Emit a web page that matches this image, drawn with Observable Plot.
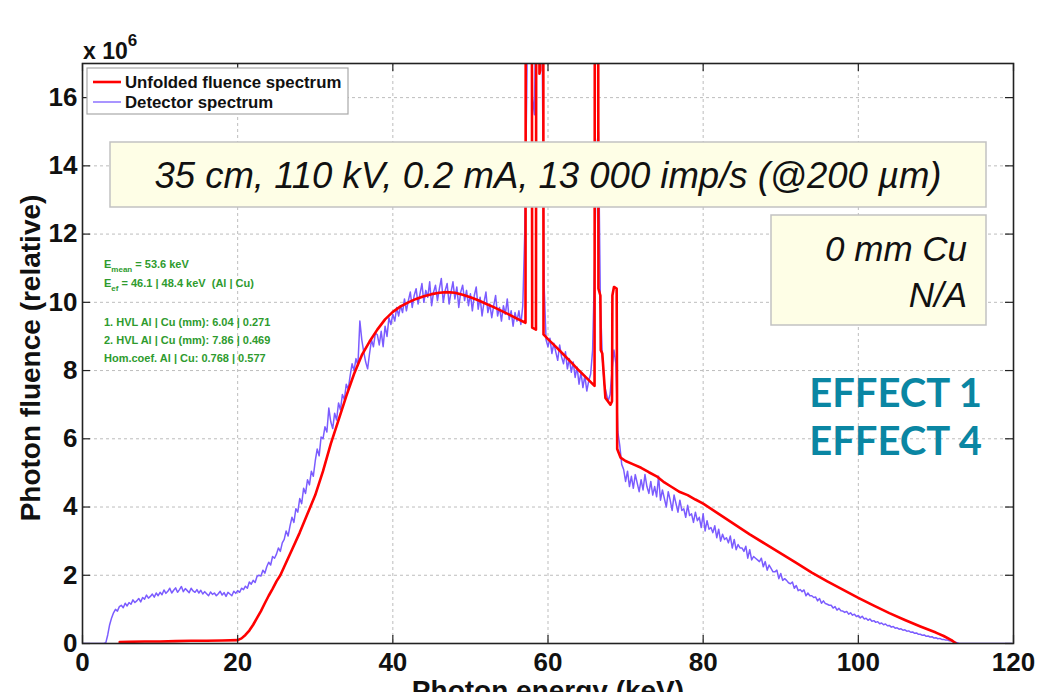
<!DOCTYPE html>
<html><head><meta charset="utf-8">
<script src="https://cdn.jsdelivr.net/npm/d3@7"></script>
<script src="https://cdn.jsdelivr.net/npm/@observablehq/plot@0.6"></script>
<style>
body{margin:0;background:#fff;}
#chart{width:1037px;height:692px;overflow:hidden;position:relative;}
</style></head><body><div id="chart"></div>
<script>
// ---------- DATA ----------
const seriesNames = ["Unfolded fluence spectrum", "Detector spectrum"];
const seriesColors = ["#ff0000", "#7b5cff"];
const xTicks = [0, 20, 40, 60, 80, 100, 120];
const yTicks = [0, 2, 4, 6, 8, 10, 12, 14, 16];

// Detector spectrum: channel energies start at 0 keV, 0.25 keV per channel
const detStart = 0, detStep = 0.25;
const detectorValues = [
0,0,0,0, 0,0,0,0, 0,0,0,0,
0.02,0.25,0.55,0.75, 0.9,1.0,0.95,1.08, 1.12,1.05,1.18,1.1, 1.2,1.15,1.28,1.2,
1.25,1.32,1.22,1.35, 1.3,1.42,1.33,1.38, 1.45,1.36,1.48,1.4, 1.5,1.43,1.57,1.47,
1.53,1.62,1.48,1.56, 1.63,1.5,1.58,1.67, 1.52,1.61,1.55,1.49, 1.62,1.54,1.5,1.58,
1.48,1.56,1.45,1.52, 1.46,1.4,1.51,1.44, 1.48,1.4,1.46,1.53, 1.42,1.49,1.38,1.5,
1.45,1.4,1.53,1.47, 1.55,1.5,1.62,1.58, 1.68,1.62,1.8,1.74, 1.85,1.79,1.97,2.0,
1.98,2.15,2.06,2.25, 2.38,2.3,2.55,2.5, 2.62,2.8,2.7,2.95, 3.05,3.3,3.15,3.45,
3.7,3.55,3.95,3.85, 4.25,4.1,4.55,4.4, 4.8,4.65,5.05,4.9, 5.35,5.7,5.5,6.05,
6.0,6.35,6.2,6.9, 6.5,6.3,6.75,6.55, 7.05,6.85,7.3,7.15, 7.6,7.45,7.85,8.2,
8.0,8.35,8.15,9.45, 8.9,8.55,8.25,8.05, 8.5,8.9,8.7,9.1, 9.05,8.75,9.15,8.7,
9.3,9.0,9.55,9.35, 9.65,9.45,9.85,9.6, 9.9,9.7,10.1,9.75, 10.05,10.3,9.85,10.2,
10.4,9.95,10.25,10.55, 10.0,10.35,10.15,10.6, 9.9,10.3,10.5,10.05, 10.4,10.7,10.0,10.35,
10.55,9.95,10.3,10.6, 10.1,10.45,9.85,10.3, 10.5,10.05,10.35,9.9, 10.25,9.75,10.2,10.45,
9.8,10.15,9.6,10.0, 10.3,9.7,9.95,9.55, 9.9,10.2,9.6,9.85, 9.45,9.9,9.65,10.1,
9.5,9.75,9.3,9.7, 9.45,9.75,9.35,9.9, 12,16,21,23, 16,15.5,20,23,
22,17.5,10.5,8.9, 8.7,8.95,8.5,8.8, 8.55,8.3,8.75,8.4, 8.2,8.55,8.05,8.35,
7.95,8.25,7.8,8.1, 7.6,7.95,7.5,7.85, 7.4,7.7,7.9,8.6, 11,14.5,15,10.0,
8.4,7.6,7.35,7.1, 7.3,8.0,8.6,8.2, 6.2,5.8,5.25,5.1, 4.75,5.05,4.6,4.9,
4.55,4.95,4.7,4.45, 4.8,4.5,4.95,4.6, 4.4,4.75,4.35,4.6, 4.3,4.9,4.2,4.5,
4.25,4.0,4.45,4.2, 3.9,4.35,4.1,3.85, 4.2,3.9,3.95,3.7, 4.05,3.75,3.8,3.55,
3.85,3.6,3.7,3.4, 3.8,3.3,3.6,3.35, 3.4,3.25,3.45,3.1, 3.35,3.0,3.2,3.05,
3.1,2.95,3.15,2.8, 3.05,2.75,2.9,2.8, 2.8,2.7,2.85,2.5, 2.75,2.45,2.55,2.5,
2.45,2.4,2.5,2.25, 2.4,2.15,2.3,2.2, 2.1,2.1,2.15,1.9, 2.05,1.85,1.9,1.85,
1.78,1.75,1.8,1.62, 1.7,1.55,1.58,1.52, 1.57,1.4,1.48,1.4, 1.4,1.35,1.36,1.25,
1.32,1.18,1.25,1.17, 1.15,1.12,1.12,1.04, 1.08,0.98,1.03,0.96, 0.95,0.91,0.94,0.86,
0.9,0.83,0.86,0.79, 0.82,0.75,0.8,0.72, 0.74,0.68,0.72,0.65, 0.67,0.62,0.64,0.58,
0.6,0.55,0.57,0.52, 0.53,0.48,0.5,0.45, 0.46,0.42,0.43,0.39, 0.4,0.36,0.37,0.33,
0.34,0.3,0.31,0.27, 0.27,0.24,0.25,0.21, 0.22,0.19,0.2,0.16, 0.17,0.14,0.15,0.12,
0.12,0.1,0.1,0.08, 0.07,0.05,0.04,0.02,
0,0,0,0, 0,0,0,0, 0,0,0,0, 0,0,0,0, 0,0,0,0, 0,0,0,0, 0,0,0,0
];

// Unfolded fluence spectrum (energy keV, value x1e6)
const unfoldedEnergy = [4.8, 6, 8, 10, 12, 14, 16, 18,
 20, 20.5, 21, 21.5, 22, 22.5, 23, 23.5, 24, 24.5, 25, 25.5,
 26, 27, 28, 29, 30, 31, 32, 33, 34, 35, 36, 37, 38, 39, 40, 41, 42, 43, 44, 45,
 46, 47, 48, 49, 50, 51, 52, 53, 54, 55, 56, 57.1,
 57.15, 57.9, 57.96, 58.45, 58.5, 58.85, 58.9, 59.0, 59.05, 59.38, 59.42,
 60, 61, 62, 63, 64, 65, 66.0,
 66.05, 66.45, 66.5, 66.75, 66.8, 67.0, 67.4, 68.05, 68.25, 68.3, 68.5, 68.85, 68.92, 69.35,
 70, 71, 72, 73, 74, 75, 76, 77, 78, 79, 80, 82, 84, 86, 88, 90, 92, 94, 96, 98,
 100, 102, 104, 106, 108, 110, 111, 112, 112.6];
const unfoldedValue = [0.04, 0.05, 0.06, 0.06, 0.07, 0.08, 0.08, 0.09,
 0.1, 0.15, 0.25, 0.38, 0.55, 0.75, 0.95, 1.18, 1.4, 1.6, 1.82, 2.0,
 2.25, 2.75, 3.25, 3.8, 4.35, 5.05, 5.85, 6.55, 7.25, 7.9, 8.45, 8.85, 9.2, 9.5, 9.72, 9.88, 10.0, 10.1, 10.18, 10.24,
 10.28, 10.3, 10.28, 10.22, 10.15, 10.06, 9.96, 9.86, 9.75, 9.64, 9.52, 9.4,
 25, 25, 9.26, 9.2, 25, 25, 16.7, 16.8, 25, 25, 9.06,
 8.92, 8.7, 8.47, 8.24, 8.0, 7.78, 7.55,
 25, 25, 10.4, 10.2, 8.6, 8.5, 7.2, 7.0, 7.1, 10.2, 10.45, 10.4, 5.7, 5.45,
 5.35, 5.25, 5.15, 5.02, 4.9, 4.72, 4.58, 4.44, 4.35, 4.22, 4.1, 3.8, 3.5, 3.2, 2.92, 2.64, 2.36, 2.08, 1.82, 1.58,
 1.34, 1.11, 0.89, 0.69, 0.5, 0.32, 0.22, 0.1, 0];

const infoLines = [
  ["E", "mean", " = 53.6 keV"],
  ["E", "ef", " = 46.1 | 48.4 keV  (Al | Cu)"],
  ["1. HVL Al | Cu (mm): 6.04 | 0.271"],
  ["2. HVL Al | Cu (mm): 7.86 | 0.469"],
  ["Hom.coef. Al | Cu: 0.768 | 0.577"]
];
const conditionText = "35 cm, 110 kV, 0.2 mA, 13 000 imp/s (@200 µm)";
const filterLines = ["0 mm Cu", "N/A"];
const effectLines = ["EFFECT 1", "EFFECT 4"];

// ---------- BUILD ----------
const detector = detectorValues.map((v, i) => ({e: detStart + i * detStep, v}));
const unfolded = unfoldedEnergy.map((e, i) => ({e, v: unfoldedValue[i]}));

const FONT = "'Liberation Sans', Arial, Helvetica, sans-serif";
const W = 1037, H = 692, ML = 82, MR = 24, MT = 63, MB = 49;
const grid = {stroke: "#bdbdbd", strokeOpacity: 1, strokeWidth: 1, strokeDasharray: "3,3"};

const plot = Plot.plot({
  width: W, height: H,
  marginLeft: ML, marginRight: MR, marginTop: MT, marginBottom: MB,
  style: {fontFamily: FONT, background: "white", overflow: "visible"},
  x: {domain: [0, 120]},
  y: {domain: [0, 17]},
  marks: [
    Plot.gridX(xTicks, grid),
    Plot.gridY(yTicks, grid),
    Plot.line(detector, {x: "e", y: "v", stroke: seriesColors[1], strokeWidth: 1.5, clip: true}),
    Plot.line(unfolded, {x: "e", y: "v", stroke: seriesColors[0], strokeWidth: 2.6, clip: true}),
    Plot.ruleX(xTicks, {x: d => d, insetTop: H - MT - MB - 8, stroke: "#222", strokeWidth: 1.2}),
    Plot.ruleX(xTicks, {x: d => d, insetBottom: H - MT - MB - 8, stroke: "#222", strokeWidth: 1.2}),
    Plot.ruleY(yTicks, {y: d => d, insetRight: W - ML - MR - 8, stroke: "#222", strokeWidth: 1.2}),
    Plot.ruleY(yTicks, {y: d => d, insetLeft: W - ML - MR - 8, stroke: "#222", strokeWidth: 1.2}),
    Plot.frame({stroke: "#222", strokeWidth: 1.6}),
    Plot.axisX(xTicks, {tickSize: 0, tickPadding: 9, fontSize: 26, fontWeight: "bold", fill: "#111", label: null}),
    Plot.axisY(yTicks, {tickSize: 0, tickPadding: 5, fontSize: 26, fontWeight: "bold", fill: "#111", label: null})
  ]
});
document.getElementById("chart").appendChild(plot);

// ---------- ANNOTATIONS ----------
const svg = d3.select(plot);
const g = svg.append("g").attr("font-family", FONT).attr("text-anchor", "start");

// axis titles
g.append("text").attr("x", 548).attr("y", 700).attr("text-anchor", "middle")
  .attr("font-size", 28).attr("font-weight", "bold").attr("fill", "#111").text("Photon energy (keV)");
g.append("text").attr("transform", "translate(40,358) rotate(-90)").attr("text-anchor", "middle")
  .attr("font-size", 28).attr("font-weight", "bold").attr("fill", "#111").text("Photon fluence (relative)");
const exp = g.append("text").attr("x", 83).attr("y", 59).attr("text-anchor", "start")
  .attr("font-size", 23).attr("font-weight", "bold").attr("fill", "#111");
exp.append("tspan").text("x 10");
exp.append("tspan").attr("dy", -13).attr("font-size", 17).text("6");

// legend
const lg = g.append("g");
lg.append("rect").attr("x", 87).attr("y", 68).attr("width", 261).attr("height", 46)
  .attr("fill", "#fff").attr("stroke", "#a8a8a8").attr("stroke-width", 1.2);
seriesNames.forEach((name, i) => {
  const y = 82 + i * 20;
  lg.append("line").attr("x1", 93).attr("x2", 121).attr("y1", y).attr("y2", y)
    .attr("stroke", seriesColors[i]).attr("stroke-width", i === 0 ? 2.6 : 1.3);
  lg.append("text").attr("x", 125).attr("y", y + 5.5).attr("text-anchor", "start")
    .attr("font-size", 16.8).attr("font-weight", "bold").attr("fill", "#111").text(name);
});

// green info text
const infoY = [268, 287, 326, 344, 362];
infoLines.forEach((parts, i) => {
  const t = g.append("text").attr("x", 104).attr("y", infoY[i]).attr("text-anchor", "start")
    .attr("font-size", 11).attr("font-weight", "bold").attr("fill", "#2e9b2e").style("white-space", "pre");
  if (parts.length === 3) {
    t.append("tspan").text(parts[0]);
    t.append("tspan").attr("dy", 4).attr("font-size", 8).text(parts[1]);
    t.append("tspan").attr("dy", -4).text(parts[2]);
  } else t.text(parts[0]);
});

// condition box
g.append("rect").attr("x", 110).attr("y", 142).attr("width", 876).attr("height", 65)
  .attr("fill", "#fefee6").attr("stroke", "#c2c2c2").attr("stroke-width", 1.5);
g.append("text").attr("x", 548).attr("y", 188).attr("text-anchor", "middle").attr("font-size", 36.5)
  .attr("font-style", "italic").attr("fill", "#111").text(conditionText);

// filter box
g.append("rect").attr("x", 771).attr("y", 215).attr("width", 215).attr("height", 110)
  .attr("fill", "#fefee6").attr("stroke", "#c2c2c2").attr("stroke-width", 1.5);
filterLines.forEach((s, i) => {
  g.append("text").attr("x", 967).attr("y", 261 + i * 46).attr("text-anchor", "end").attr("font-size", 35)
    .attr("font-style", "italic").attr("fill", "#111").text(s);
});

// effects
effectLines.forEach((s, i) => {
  g.append("text").attr("x", 982).attr("y", 407 + i * 48).attr("text-anchor", "end")
    .attr("font-family", "Lato, 'Open Sans', sans-serif").attr("font-size", 40).attr("font-weight", "bold")
    .attr("fill", "#0a86a3").text(s);
});
</script>
</body></html>
